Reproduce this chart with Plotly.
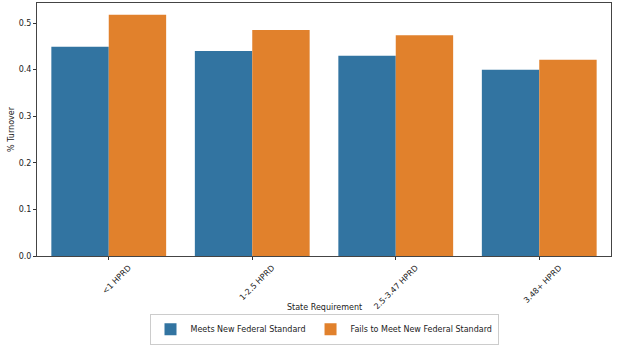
import plotly.graph_objects as go

categories = ["<1 HPRD", "1-2.5 HPRD", "2.5-3.47 HPRD", "3.48+ HPRD"]
meets = [0.449, 0.440, 0.430, 0.400]
fails = [0.518, 0.485, 0.474, 0.421]
series_names = ["Meets New Federal Standard", "Fails to Meet New Federal Standard"]

font = dict(family="DejaVu Sans", size=8, color="#222222")

fig = go.Figure()
fig.add_trace(go.Bar(x=categories, y=meets, name=series_names[0], marker=dict(color="#3274a1", line=dict(width=0))))
fig.add_trace(go.Bar(x=categories, y=fails, name=series_names[1], marker=dict(color="#e1812c", line=dict(width=0))))

fig.update_layout(
    width=618, height=353,
    margin=dict(l=37, r=7, t=3, b=97),
    barmode="group", bargap=0.2, bargroupgap=0,
    plot_bgcolor="white", paper_bgcolor="white",
    font=font,
    showlegend=True,
    legend=dict(orientation="h", x=0.5, xanchor="center", y=-0.228, yanchor="top",
                bordercolor="#cccccc", borderwidth=1, font=dict(family="DejaVu Sans", size=8),
                itemwidth=30, tracegroupgap=0),
    xaxis=dict(tickangle=-45, ticks="outside", ticklen=3, tickcolor="#333",
               showline=True, linecolor="#444", linewidth=1, mirror=True,
               showgrid=False, tickfont=dict(size=8), ticklabelshift=20),
    yaxis=dict(title=dict(text="% Turnover", standoff=2, font=dict(size=8)),
               range=[0, 0.543], tickvals=[0, 0.1, 0.2, 0.3, 0.4, 0.5],
               ticktext=["0.0", "0.1", "0.2", "0.3", "0.4", "0.5"],
               ticks="outside", ticklen=3, tickcolor="#333",
               showline=True, linecolor="#444", linewidth=1, mirror=True,
               showgrid=False, zeroline=False, tickfont=dict(size=8)),
    annotations=[dict(text="State Requirement", xref="paper", yref="paper", x=0.5, y=-0.205,
                      xanchor="center", yanchor="middle", showarrow=False, font=dict(size=8))],
)

fig.write_html("out.html")
